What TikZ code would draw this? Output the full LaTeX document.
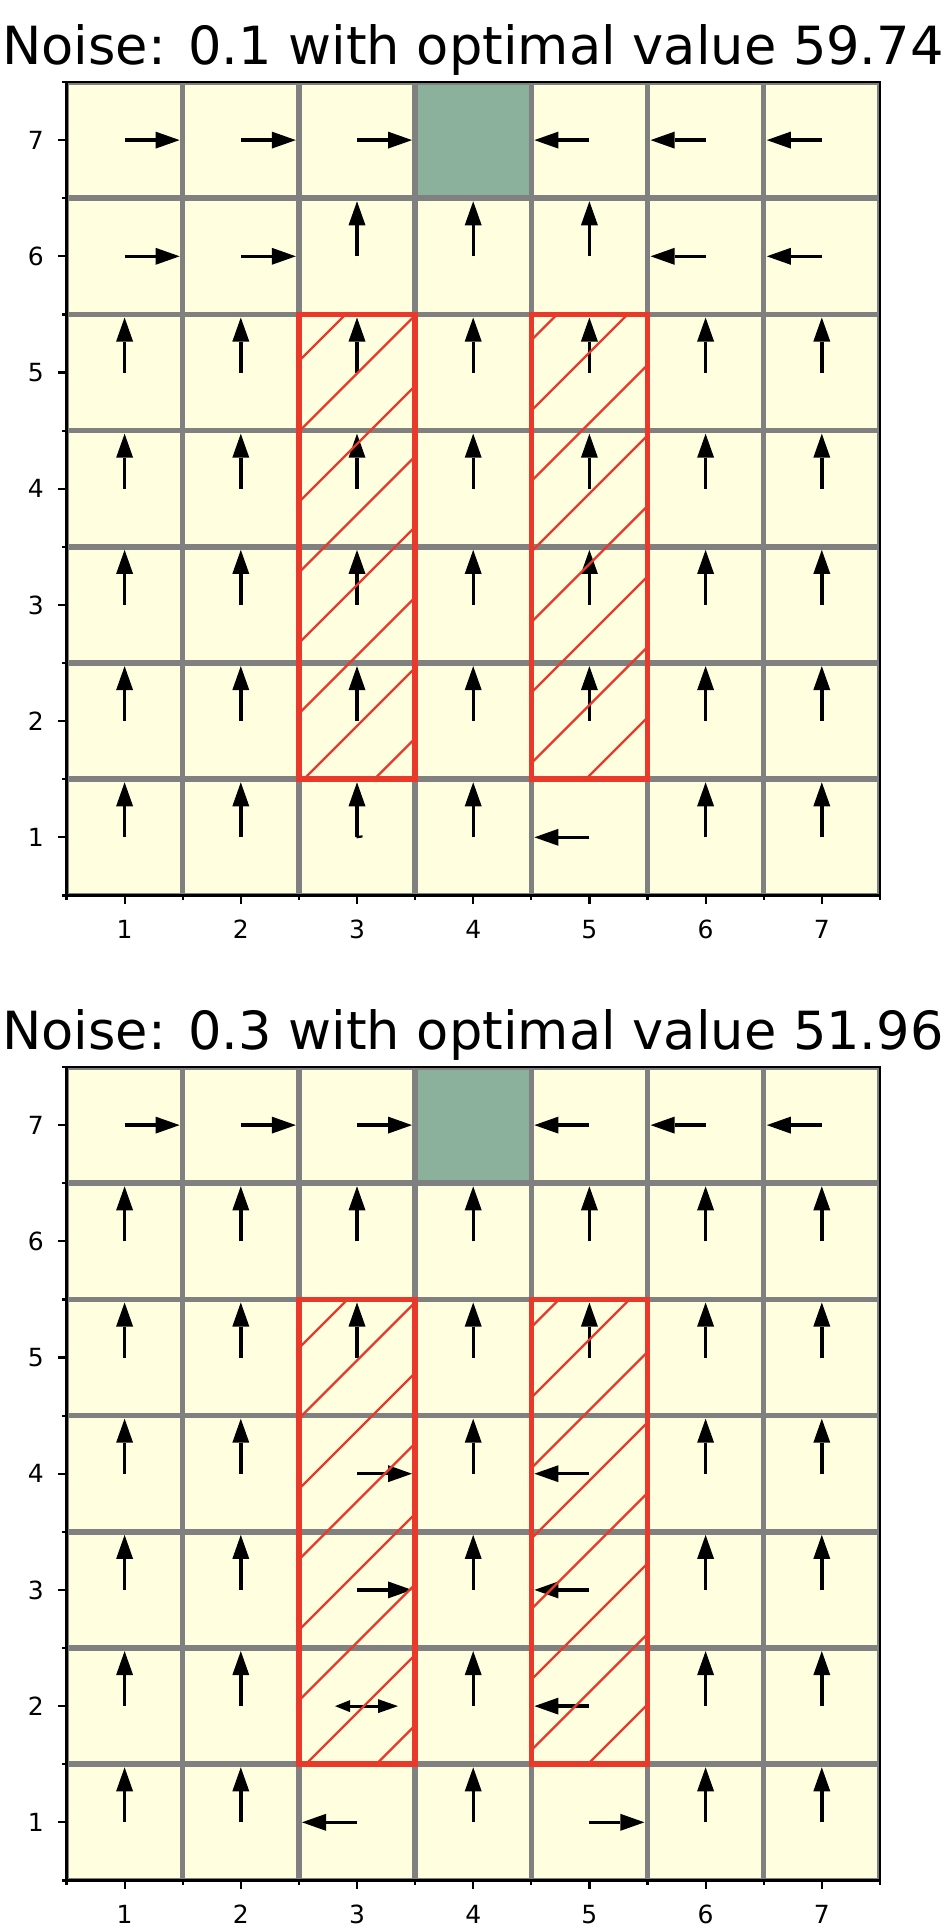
\documentclass[tikz,border=0pt]{standalone}
\usepackage{fontspec}
\setmainfont{DejaVu Sans}
\usetikzlibrary{arrows.meta}
\definecolor{cellyellow}{HTML}{FFFFE0}
\definecolor{goalgreen}{HTML}{8BB09B}
\definecolor{gridgray}{HTML}{808080}
\definecolor{hatchred}{HTML}{E8392A}
\tikzset{
  arr/.style={line width=3.4pt,-{Triangle[length=24pt,width=17pt,line width=0pt]}},
  hatchline/.style={hatchred,line width=2.3pt},
  redbox/.style={hatchred,line width=5.5pt},
  gridline/.style={gridgray,line width=5.5pt},
  spine/.style={black,line width=2.5pt},
  tickmark/.style={black,line width=2.2pt},
  ticklabel/.style={inner sep=0pt,font=\fontsize{25}{30}\selectfont},
  titlelabel/.style={inner sep=0pt,anchor=base,font=\fontsize{52.6}{60}\selectfont},
}
\newcommand\ua[2]{\draw[arr] ({66.5+(#1-0.5)*116.2},{(7.5-#2)*116.2}) -- ++(0,-55);}
\newcommand\ra[2]{\draw[arr] ({66.5+(#1-0.5)*116.2},{(7.5-#2)*116.2}) -- ++(55,0);}
\newcommand\la[2]{\draw[arr] ({66.5+(#1-0.5)*116.2},{(7.5-#2)*116.2}) -- ++(-55,0);}
% frame of one plot, in local coordinates (scope shifted)
\newcommand\plotbase{%
  \fill[cellyellow] (66.5,0) rectangle (879.9,813.4);
  \fill[goalgreen] (415.1,0) rectangle (531.3,116.2);
  \begin{scope}
    \clip (66.5,0) rectangle (879.9,813.4);
    \foreach \i in {0,...,7} {
      \draw[gridline] ({66.5+\i*116.2},0) -- ({66.5+\i*116.2},813.4);
      \draw[gridline] (66.5,{\i*116.2}) -- (879.9,{\i*116.2});
    }
  \end{scope}}
\newcommand\plotaxes{%
  \draw[spine] (66.5,0) rectangle (879.9,813.4);
  \foreach \i in {1,...,7} {
    \draw[tickmark] ({66.5+(\i-0.5)*116.2},813.4) -- ++(0,8.75);
    \draw[tickmark] (66.5,{(7.5-\i)*116.2}) -- ++(-8.75,0);
    \node[ticklabel,anchor=base] at ({66.5+(\i-0.5)*116.2},856.4) {\i};
    \node[ticklabel,anchor=east] at (44,{(7.5-\i)*116.2}) {\i};
  }
  \foreach \i in {0,...,7} {
    \draw[tickmark] ({66.5+\i*116.2},813.4) -- ++(0,4.5);
    \draw[tickmark] (66.5,{\i*116.2}) -- ++(-4.5,0);
  }}
% hatched red box, global coordinates: #1 = left x, #2 = top y
\newcommand\hatchbox[2]{%
  \begin{scope}
    \clip (#1,#2) rectangle ({#1+116.2},{#2+464.8});
    \foreach \k in {0,...,36} {
      \pgfmathsetmacro\S{25.5+\k*70.5}
      \draw[hatchline] ({\S-(#2-5)},{#2-5}) -- ({\S-(#2+470)},{#2+470});
    }
  \end{scope}
  \draw[redbox] (#1,#2) rectangle ({#1+116.2},{#2+464.8});}
\begin{document}
\begin{tikzpicture}[x=1pt,y=-1pt]
\useasboundingbox (0,0) rectangle (946,1931);
\fill[white] (0,0) rectangle (946,1931);
% ---------------- top plot ----------------
\begin{scope}[shift={(0,82)}]
  \plotbase
  \node[titlelabel] (title1) at (473,-18) {Noise: 0.1 with optimal value 59.74};
  \foreach \c/\r in {1/7,2/7,3/7,1/6,2/6} {\ra{\c}{\r}}
  \foreach \c/\r in {5/7,6/7,7/7,6/6,7/6,5/1} {\la{\c}{\r}}
  \foreach \c/\r in {3/6,4/6,5/6,1/1,2/1,3/1,4/1,6/1,7/1} {\ua{\c}{\r}}
  \foreach \r in {2,...,5} {\foreach \c in {1,...,7} {\ua{\c}{\r}}}
  \draw[line width=2.2pt] (356.5,{6.5*116.2}) -- ++(6,-1);
\end{scope}
\hatchbox{298.9}{314.4}
\hatchbox{531.3}{314.4}
\begin{scope}[shift={(0,82)}]
  \plotaxes
\end{scope}
% ---------------- bottom plot ----------------
\begin{scope}[shift={(0,1067)}]
  \plotbase
  \node[titlelabel] (title2) at (473,-17.5) {Noise: 0.3 with optimal value 51.96};
  \foreach \c/\r in {1/7,2/7,3/7,3/4,3/3,5/1} {\ra{\c}{\r}}
  \foreach \c/\r in {5/7,6/7,7/7,5/4,5/3,5/2,3/1} {\la{\c}{\r}}
  \foreach \r in {5,6} {\foreach \c in {1,...,7} {\ua{\c}{\r}}}
  \foreach \r in {1,...,4} {\foreach \c in {1,2,4,6,7} {\ua{\c}{\r}}}
  \draw[line width=3pt,{Triangle[length=15pt,width=12pt,line width=0pt]}-{Triangle[length=20pt,width=14pt,line width=0pt]}] (335,{5.5*116.2}) -- (398,{5.5*116.2});
\end{scope}
\hatchbox{298.9}{1299.4}
\hatchbox{531.3}{1299.4}
\begin{scope}[shift={(0,1067)}]
  \plotaxes
\end{scope}
\end{tikzpicture}
\end{document}
